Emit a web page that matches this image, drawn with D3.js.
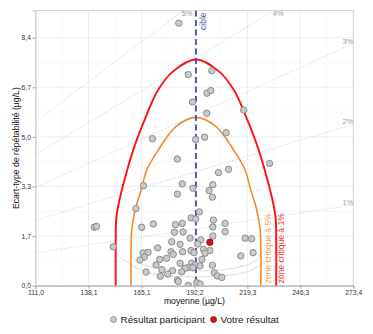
<!DOCTYPE html>
<html>
<head>
<meta charset="utf-8">
<script src="https://cdn.jsdelivr.net/npm/d3@7"></script>
<style>
html,body{margin:0;padding:0;background:#fff;}
svg{display:block;font-family:"Liberation Sans",Arial,sans-serif;}
</style>
</head>
<body>
<svg id="chart" width="373" height="334"></svg>
<script>
// ---------- data ----------
const xTickValues = [111.0, 138.07, 165.13, 192.2, 219.27, 246.33, 273.4];
const xTickLabels = ["111,0", "138,1", "165,1", "192,2", "219,3", "246,3", "273,4"];
const yTickValues = [0, 1.68, 3.36, 5.04, 6.72, 8.4];
const yTickLabels = ["0,0", "1,7", "3,3", "5,0", "6,7", "8,4"];
const xDomain = [111.0, 273.4];
const yDomain = [0, 9.32];
const cible = 193.0;

const cvPercents = [1, 2, 3, 4, 5];
const cvLabels = ["1%", "2%", "3%", "4%", "5%"];

// critical zone boundaries: half-width from cible vs repeatability sd
const red1HalfWidth = [0, 11.9, 19.6, 25.6, 31.5, 36.1, 39.1, 40.7, 41.0, 41.0];
const red1Sd        = [7.66, 7.25, 6.60, 5.72, 4.71, 3.69, 2.90, 2.30, 1.60, 0];
const orange5HalfWidth = [0, 10, 19.2, 25.1, 28.0, 31.1, 32.8, 33.15, 33.15];
const orange5Sd        = [5.70, 5.40, 4.60, 3.92, 3.24, 2.56, 1.89, 1.30, 0];
// faint lower curves
const grayOuterHalfWidth = [0, 10, 20, 28, 34, 38.5, 40.5, 41.0];
const grayOuterSd        = [0.30, 0.32, 0.38, 0.52, 0.75, 0.95, 1.12, 1.32];
const grayInnerHalfWidth = [0, 10, 20, 26.8, 30.5, 32.5, 33.15];
const grayInnerSd        = [0.50, 0.52, 0.60, 0.72, 0.85, 1.0, 1.18];

const participantMean = [184.2,189.1,201.1,198.6,200.6,191.25,198.5,217.4,170.8,192.8,197.4,208.45,230.6,209.6,
  207.9,207.9,218.1,221.45,215.9,222.2,166.2,162.3,141.0,142.2,150.7,165.25,171.2,182.5,182.0,173.4,165.9,168.5,
  166.6,164.4,180.25,181.4,174.5,178.0,172.6,175.6,167.5,181.0,178.6,174.8,183.5,204.5,186.0,183.5,191.4,201.6,
  199.7,201.4,194.7,190.5,192.9,201.9,186.0,201.6,186.4,201.6,190.0,195.45,193.9,180.6,184.9,196.8,200.1,197.65,
  190.5,186.2,192.0,196.0,184.9,190.8,192.5,195.1,201.4,189.1,187.4,191.4,185.7,202.4,203.9,206.2,183.5,184.0,
  193.4,195.1,189.1];
const participantSd = [8.89,7.15,7.28,6.52,6.61,6.22,5.84,5.95,4.98,4.95,5.03,5.18,4.14,3.94,
  2.11,1.83,1.61,1.59,1.01,1.12,3.39,2.61,1.98,2.01,1.32,1.98,2.09,2.07,1.81,1.28,1.11,1.13,
  0.97,0.87,1.15,1.06,0.89,0.93,0.70,0.54,0.46,0.51,0.39,0.32,4.29,3.83,3.45,3.10,3.30,3.42,
  3.22,3.00,2.50,2.30,2.26,2.22,2.11,1.99,1.82,1.68,1.61,1.55,1.41,1.49,1.40,1.23,1.19,1.10,
  1.19,1.15,1.12,0.89,0.76,0.76,0.70,0.67,0.69,0.62,0.59,0.61,0.47,0.44,0.33,0.28,0.19,0.14,
  0.10,0.06,0.01];
const yourMean = [200.1];
const yourSd = [1.47];

// ---------- drawing ----------
(function draw() {
const svg = d3.select("#chart");
const pL = 35.5, pR = 353.3, pT = 10.5, pB = 285.7;
const x = d3.scaleLinear().domain(xDomain).range([pL, pR]);
const y = d3.scaleLinear().domain(yDomain).range([pB, pT]);

svg.append("rect").attr("width", 373).attr("height", 334).attr("fill", "#fff");

const defs = svg.append("defs");
defs.append("clipPath").attr("id", "clip").append("rect")
  .attr("x", pL).attr("y", pT).attr("width", pR - pL).attr("height", pB - pT);

// grid
const grid = svg.append("g");
const xMinor = d3.pairs(xTickValues).map(p => (p[0] + p[1]) / 2);
const yMinor = d3.pairs(yTickValues).map(p => (p[0] + p[1]) / 2).concat([8.4 + 0.84]);
grid.selectAll(".xmn").data(xMinor).join("line")
  .attr("x1", d => x(d)).attr("x2", d => x(d)).attr("y1", pT).attr("y2", pB)
  .attr("stroke", "#f6f6f6").attr("stroke-width", 0.8);
grid.selectAll(".ymn").data(yMinor.filter(v => v < yDomain[1])).join("line")
  .attr("x1", pL).attr("x2", pR).attr("y1", d => y(d)).attr("y2", d => y(d))
  .attr("stroke", "#f6f6f6").attr("stroke-width", 0.8);
grid.selectAll(".xmj").data(xTickValues).join("line")
  .attr("x1", d => x(d)).attr("x2", d => x(d)).attr("y1", pT).attr("y2", pB)
  .attr("stroke", "#eeeeee").attr("stroke-width", 1);
grid.selectAll(".ymj").data(yTickValues).join("line")
  .attr("x1", pL).attr("x2", pR).attr("y1", d => y(d)).attr("y2", d => y(d))
  .attr("stroke", "#eeeeee").attr("stroke-width", 1);

// panel border
svg.append("rect").attr("x", pL).attr("y", pT).attr("width", pR - pL).attr("height", pB - pT)
  .attr("fill", "none").attr("stroke", "#d6d6d6").attr("stroke-width", 1);

const plot = svg.append("g").attr("clip-path", "url(#clip)");

// CV lines
cvPercents.forEach((p, i) => {
  const f = p / 100;
  const x2 = Math.min(xDomain[1], yDomain[1] / f);
  plot.append("line")
    .attr("x1", x(xDomain[0])).attr("y1", y(f * xDomain[0]))
    .attr("x2", x(x2)).attr("y2", y(f * x2))
    .attr("stroke", "#c4c4c4").attr("stroke-width", 0.8).attr("stroke-dasharray", "1,1.6");
  const t = svg.append("text").text(cvLabels[i]).attr("font-size", 7.5).attr("fill", "#9a9a9a");
  if (x2 < xDomain[1]) {
    t.attr("x", x(x2) + 4).attr("y", pT + 5.5).attr("text-anchor", "middle");
  } else {
    t.attr("x", pR).attr("y", y(f * x2)).attr("text-anchor", "end");
  }
});

const line = d3.line().x(d => x(d[0])).y(d => y(d[1])).curve(d3.curveCatmullRom.alpha(0.5));
function fullCurve(hw, sd) {
  const leftSide = hw.map((h, i) => [cible - h, sd[i]]).reverse();
  const rightSide = hw.slice(1).map((h, i) => [cible + h, sd[i + 1]]);
  return leftSide.concat(rightSide);
}

plot.append("path").attr("d", line(fullCurve(grayOuterHalfWidth, grayOuterSd)))
  .attr("fill", "none").attr("stroke", "#dddddd").attr("stroke-width", 1);
plot.append("path").attr("d", line(fullCurve(grayInnerHalfWidth, grayInnerSd)))
  .attr("fill", "none").attr("stroke", "#dddddd").attr("stroke-width", 1);

plot.append("path").attr("d", line(fullCurve(orange5HalfWidth, orange5Sd)))
  .attr("fill", "none").attr("stroke", "#f58a2c").attr("stroke-width", 1.6);
plot.append("path").attr("d", line(fullCurve(red1HalfWidth, red1Sd)))
  .attr("fill", "none").attr("stroke", "#ff1010").attr("stroke-width", 1.9);

// cible line
plot.append("line").attr("x1", x(cible)).attr("x2", x(cible)).attr("y1", pT).attr("y2", pB)
  .attr("stroke", "#4b4ba6").attr("stroke-width", 1.8).attr("stroke-dasharray", "6,3.5");

// points
const pts = participantMean.map((m, i) => [m, participantSd[i]]);
plot.selectAll(".pt").data(pts).join("circle")
  .attr("cx", d => x(d[0])).attr("cy", d => y(d[1])).attr("r", 3.2)
  .attr("fill", "#c9c9c9").attr("stroke", "#858585").attr("stroke-width", 0.9);
plot.selectAll(".you").data(yourMean.map((m, i) => [m, yourSd[i]])).join("circle")
  .attr("cx", d => x(d[0])).attr("cy", d => y(d[1])).attr("r", 3.2)
  .attr("fill", "#c8161d").attr("stroke", "#8e1015").attr("stroke-width", 0.9);

// texts in panel
svg.append("text").text("cible")
  .attr("transform", `translate(${x(cible) + 10},${pT + 2}) rotate(-90)`)
  .attr("text-anchor", "end").attr("font-size", 8.5).attr("fill", "#5656b0");
svg.append("text").text("zone critique à 5%")
  .attr("transform", `translate(${x(cible + orange5HalfWidth[orange5HalfWidth.length - 1]) + 10},${pB - 2.5}) rotate(-90)`)
  .attr("text-anchor", "start").attr("font-size", 8.5).attr("fill", "#f7a45c");
svg.append("text").text("zone critique à 1%")
  .attr("transform", `translate(${x(cible + red1HalfWidth[red1HalfWidth.length - 1]) + 7.5},${pB - 2.5}) rotate(-90)`)
  .attr("text-anchor", "start").attr("font-size", 8.5).attr("fill", "#ff3030");

// axes
const xAxis = svg.append("g").attr("transform", `translate(0,${pB})`)
  .call(d3.axisBottom(x).tickValues(xTickValues).tickFormat((d, i) => xTickLabels[i]).tickSize(3).tickPadding(1.5));
xAxis.select(".domain").attr("stroke", "#a8a8a8");
xAxis.selectAll(".tick line").attr("stroke", "#a8a8a8");
xAxis.selectAll("text").attr("font-size", 6.8).attr("fill", "#333").attr("font-family", "Liberation Sans, Arial, sans-serif");

const yAxis = svg.append("g").attr("transform", `translate(${pL},0)`)
  .call(d3.axisLeft(y).tickValues(yTickValues).tickFormat((d, i) => yTickLabels[i]).tickSize(3).tickPadding(1.5));
yAxis.select(".domain").attr("stroke", "#d0d0d0");
yAxis.selectAll(".tick line").attr("stroke", "#a8a8a8");
yAxis.selectAll("text").attr("font-size", 6.8).attr("fill", "#333").attr("font-family", "Liberation Sans, Arial, sans-serif");

// axis titles
svg.append("text").text("moyenne (µg/L)")
  .attr("x", (pL + pR) / 2).attr("y", 303.5).attr("text-anchor", "middle")
  .attr("font-size", 8.7).attr("fill", "#111");
svg.append("text").text("Ecart-type de répétabilité (µg/L)")
  .attr("transform", `translate(18.5,${(pT + pB) / 2}) rotate(-90)`)
  .attr("text-anchor", "middle").attr("font-size", 8.7).attr("fill", "#111");

// legend
const legendItems = [
  {label: "Résultat participant", fill: "#c9c9c9", stroke: "#858585"},
  {label: "Votre résultat", fill: "#c8161d", stroke: "#8e1015"}
];
const lg = svg.append("g").attr("transform", "translate(113.5,319.5)");
let lx = 0;
legendItems.forEach(it => {
  lg.append("circle").attr("cx", lx).attr("cy", 0).attr("r", 3)
    .attr("fill", it.fill).attr("stroke", it.stroke).attr("stroke-width", 0.8);
  const t = lg.append("text").text(it.label).attr("x", lx + 7).attr("y", 3.5)
    .attr("font-size", 9.9).attr("fill", "#222");
  lx += 7 + t.node().getComputedTextLength() + 8.5;
});
})();
</script>
</body>
</html>
